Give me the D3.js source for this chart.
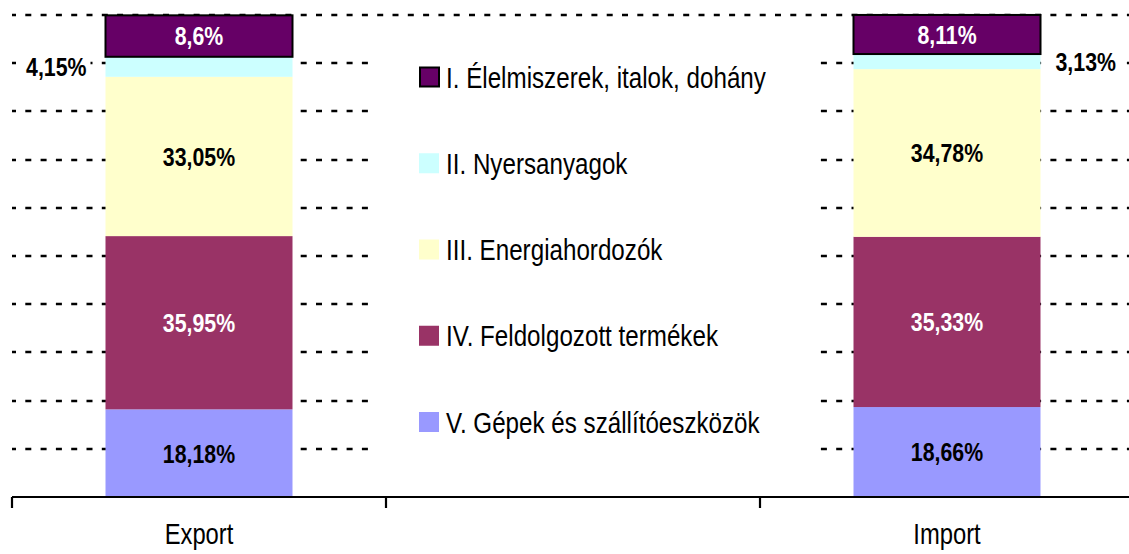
<!DOCTYPE html>
<html>
<head>
<meta charset="utf-8">
<script src="https://cdn.jsdelivr.net/npm/d3@7"></script>
<style>
  html, body { margin: 0; padding: 0; background: #fff; }
  svg { display: block; }
  text { font-family: "Liberation Sans Narrow", "Arial Narrow", "Liberation Sans", Arial, sans-serif; }
</style>
</head>
<body>
<script>
// ---- data ----
const categories = ["Export", "", "Import"];
const seriesNames = [
  "I. Élelmiszerek, italok, dohány",
  "II. Nyersanyagok",
  "III. Energiahordozók",
  "IV. Feldolgozott termékek",
  "V. Gépek és szállítóeszközök"
];
const seriesColors = ["#660066", "#CCFFFF", "#FFFFCC", "#993366", "#9999FF"];
const labelColors = ["#ffffff", "#000000", "#000000", "#ffffff", "#000000"];
const exportValues = [8.6, 4.15, 33.05, 35.95, 18.18];
const importValues = [8.11, 3.13, 34.78, 35.33, 18.66];
const exportLabels = ["8,6%", "4,15%", "33,05%", "35,95%", "18,18%"];
const importLabels = ["8,11%", "3,13%", "34,78%", "35,33%", "18,66%"];
const gridTicks = [10, 20, 30, 40, 50, 60, 70, 80, 90, 100];

// ---- layout ----
const W = 1129, H = 554;
const NARROW = 0.82; // emulate a condensed face
const svg = d3.select("body").append("svg").attr("width", W).attr("height", H);

function ntext(parent, xPos, yPos, str, o) {
  const g = parent.append("g").attr("transform", `translate(${xPos},${yPos}) scale(${NARROW},1)`);
  const t = g.append("text")
    .attr("x", 0).attr("y", 0).attr("dy", "0.36em")
    .attr("text-anchor", o.anchor || "start")
    .attr("font-size", o.size)
    .attr("font-weight", o.bold ? "bold" : "normal")
    .attr("fill", o.fill || "#000")
    .text(str);
  return { g, t };
}

const x = d3.scaleBand().domain(categories).range([12, 1134]).paddingInner(0).paddingOuter(0);
const y = d3.scaleLinear().domain([0, 100]).range([497, 15]);
const barW = x.bandwidth() * 0.5;

// gridlines
svg.append("g").selectAll("line").data(gridTicks).join("line")
  .attr("x1", 12).attr("x2", W)
  .attr("y1", d => Math.round(y(d))).attr("y2", d => Math.round(y(d)))
  .attr("stroke", "#000").attr("stroke-width", 2.6)
  .attr("stroke-dasharray", "6 9.3").attr("stroke-dashoffset", 2);

// bars
const bars = [
  { cat: "Export", values: exportValues, labels: exportLabels },
  { cat: "Import", values: importValues, labels: importLabels }
];
bars.forEach(b => {
  let cum = 0;
  const segs = [];
  for (let i = seriesNames.length - 1; i >= 0; i--) {
    segs.push({ i, y0: cum, y1: cum + b.values[i], label: b.labels[i] });
    cum += b.values[i];
  }
  const x0 = x(b.cat) + (x.bandwidth() - barW) / 2;
  const g = svg.append("g");
  g.selectAll("rect").data(segs).join("rect")
    .attr("x", x0).attr("width", barW)
    .attr("y", d => y(d.y1)).attr("height", d => y(d.y0) - y(d.y1))
    .attr("fill", d => seriesColors[d.i])
    .attr("stroke", d => d.i === 0 ? "#000" : "none")
    .attr("stroke-width", d => d.i === 0 ? 2 : 0);
  segs.forEach(d => {
    const cy = (y(d.y0) + y(d.y1)) / 2;
    if (d.i === 1) {
      const left = b.cat === "Export";
      const tx = left ? x0 - 19 : x0 + barW + 15;
      const bg = g.append("rect").attr("fill", "#fff");
      const { t } = ntext(g, tx, cy, d.label, { anchor: left ? "end" : "start", size: 26, bold: true });
      const bb = t.node().getBBox();
      const w = bb.width * NARROW;
      const bx = left ? tx - w : tx;
      bg.attr("x", bx - 8).attr("y", cy - 11).attr("width", w + 12).attr("height", 22);
    } else {
      ntext(g, x0 + barW / 2, cy, d.label, { anchor: "middle", size: 26, bold: true, fill: labelColors[d.i] });
    }
  });
});

// legend (white box over gridlines)
const lg = svg.append("g");
lg.append("rect").attr("x", 371).attr("y", 24).attr("width", 441).attr("height", 447).attr("fill", "#fff");
const legY = d3.scalePoint().domain(seriesNames).range([77, 422]);
seriesNames.forEach((n, i) => {
  const cy = legY(n);
  lg.append("rect")
    .attr("x", i === 0 ? 420 : 419).attr("y", cy - (i === 0 ? 9.5 : 10))
    .attr("width", i === 0 ? 19 : 20).attr("height", i === 0 ? 19 : 20)
    .attr("fill", seriesColors[i])
    .attr("stroke", i === 0 ? "#000" : "none").attr("stroke-width", 2);
  ntext(lg, 446, cy, n, { size: 29.5 });
});

// x axis
const ax = svg.append("g").attr("transform", "translate(0,497)");
ax.append("line").attr("x1", 12).attr("x2", W).attr("y1", 0).attr("y2", 0)
  .attr("stroke", "#000").attr("stroke-width", 2.2);
ax.selectAll("line.tk").data(categories).join("line").attr("class", "tk")
  .attr("x1", d => x(d)).attr("x2", d => x(d)).attr("y1", 0).attr("y2", 11)
  .attr("stroke", "#000").attr("stroke-width", 2.2);
categories.forEach(c => {
  ntext(ax, x(c) + x.bandwidth() / 2, 37, c, { anchor: "middle", size: 29 });
});
</script>
</body>
</html>
